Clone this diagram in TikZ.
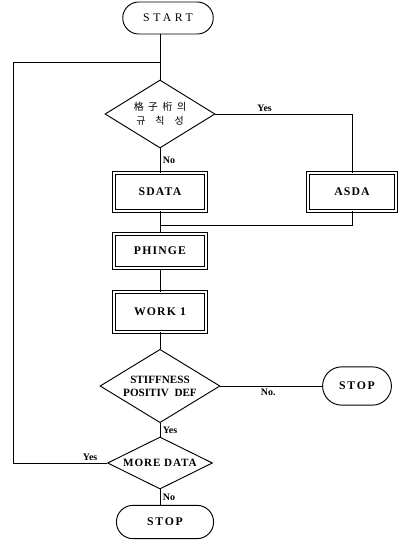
\documentclass[tikz,border=0pt]{standalone}
\usepackage{fontspec}
\setmainfont{Liberation Serif}
\newfontfamily\korfont{Noto Sans CJK KR}
\usetikzlibrary{shapes.geometric,shapes.misc}
\tikzset{flow/.style={line width=.8pt},
 every node/.style={font=\fontsize{9.5}{11}\selectfont\bfseries}}

\begin{document}
\begin{tikzpicture}[x=.03cm,y=-.03cm,line width=.8pt,
 term/.style={draw,rounded rectangle,minimum height=1cm,font=\fontsize{10}{12}\selectfont\bfseries\addfontfeature{LetterSpace=15}},
 box/.style={draw,double,double distance=1.8pt,line width=.7pt,minimum width=2.74cm,minimum height=1.12cm,font=\fontsize{10}{12}\selectfont\bfseries\addfontfeature{LetterSpace=10}},
 test/.style={draw,diamond,inner sep=0pt},
 tag/.style={font=\fontsize{8.5}{10}\selectfont\bfseries,inner sep=2pt}]
\useasboundingbox (0,0) rectangle (407,541);
\node[term,minimum width=2.95cm,minimum height=.96cm,font=\fontsize{10}{12}\selectfont\addfontfeature{LetterSpace=30}] (S) at (168,18) {START};
\node[test,minimum width=3.3cm,minimum height=2.04cm,label={[align=center,font=\korfont\fontsize{8.5}{12}\selectfont]center:格\hspace{.45em}子\hspace{.45em}桁\hspace{.45em}의\\규\hspace{1em}칙\hspace{1em}성}] (D1) at (160,114) {};
\node[box] (SD) at (160,192) {SDATA};
\node[box,minimum width=2.65cm] (A) at (352,192) {ASDA};
\node[box,minimum height=1.03cm] (P) at (160,251) {PHINGE};
\node[box,minimum height=1.18cm] (W) at (160,312) {WORK 1};
\node[test,minimum width=3.6cm,minimum height=2.2cm,label={[align=center]center:STIFFNESS\\POSITIV\ \ DEF}] (D2) at (160,386) {};
\node[term,minimum width=2.3cm,minimum height=1.15cm] (T2) at (357,386) {STOP};
\node[test,minimum width=3.15cm,minimum height=1.56cm,label={center:{\addfontfeature{LetterSpace=8}MORE DATA}}] (D3) at (160,463) {};
\node[term,minimum width=3.15cm] (T3) at (165,522) {STOP};
\coordinate (M) at (160,225);
\coordinate (L) at (13,62);
% main column
\draw[flow] (D1.north) -- (D1.north |- S.south);
\draw[flow] (D1.south) -- (SD.north) node[tag,midway,right] {No};
\draw[flow] (D1.east) -| (A.north) node[tag,pos=.18,above] {Yes};
\draw[flow] (SD.south) -- (P.north);
\draw[flow] (M) -| (A.south);
\draw[flow] (P.south) -- (W.north);
\draw[flow] (W.south) -- (D2.north);
\draw[flow] (D2.east) -- (T2.west) node[tag,pos=.47,below] {No.};
\draw[flow] (D2.south) -- (D3.north) node[tag,midway,right] {Yes};
\draw[flow] (D3.south) -- (D3.south |- T3.north) node[tag,midway,right] {No};
% loop back
\draw[flow] (D3.west) -| node[tag,pos=.09,above] {Yes} (L) -- (L -| D1.north);
\end{tikzpicture}
\end{document}
